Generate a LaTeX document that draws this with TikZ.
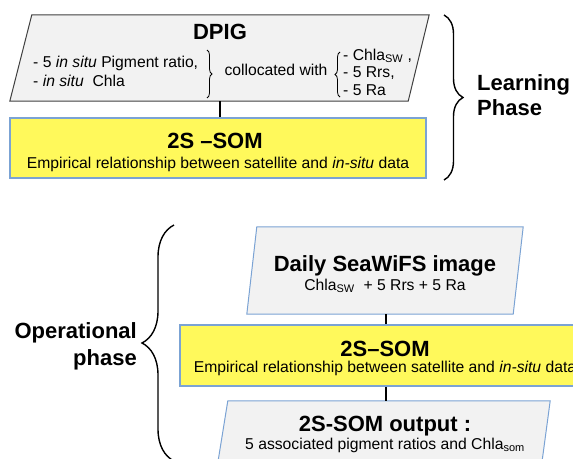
\documentclass[tikz,border=0pt]{standalone}
\usepackage{fontspec}
\setmainfont{Liberation Sans}
\usetikzlibrary{decorations.pathreplacing,positioning}

\definecolor{boxgray}{HTML}{F2F2F2}
\definecolor{boxblue}{HTML}{7BA3D4}
\definecolor{boxyellow}{HTML}{FFF95B}

\newcommand{\bigtitle}{\fontsize{22}{25}\selectfont\bfseries}
\newcommand{\smalltext}{\fontsize{15.7}{19}\selectfont}

\tikzset{
  titlenode/.style={font=\bigtitle, anchor=base, inner sep=0pt},
  textnode/.style={font=\smalltext, anchor=base, inner sep=0pt},
  listnode/.style={font=\smalltext, align=left, anchor=base west, inner sep=0pt},
  phaselabel/.style={font=\bigtitle, inner sep=0pt},
  yellowbox/.style={draw=boxblue, fill=boxyellow, line width=1.5pt, inner sep=0pt},
  frame/.style={inner sep=0pt},
  paraline/.style={fill=boxgray, line width=1pt},
  link/.style={line width=2pt},
  phasebrace/.style={decorate, decoration={brace, amplitude=#1}, line width=1.4pt},
  listbrace/.style={decorate, decoration={brace, amplitude=5pt}, line width=0.8pt},
}

\begin{document}
\begin{tikzpicture}[x=1pt,y=-1pt]
\path[use as bounding box, clip] (0,0) rectangle (573,458);

% Learning phase: DPIG data base
\node[frame, minimum width=419pt, minimum height=86pt] (dpig) at (219.5,58) {};
\draw[paraline, draw=black!75] ([xshift=22pt]dpig.north west) -- (dpig.north east)
  -- ([xshift=-21pt]dpig.south east) -- (dpig.south west) -- cycle;
\node[titlenode] (dpigtitle) at (220,39) {DPIG};
% base of a two-line node is its last line
\node[listnode] (insitu) at (33,86) {- 5 \textit{in situ} Pigment ratio,\\- \textit{in situ}\ \ Chla};
\node[textnode] (coll) at (276,75) {collocated with};
\node[listnode, font=\fontsize{15.7}{17.5}\selectfont] (sat) at (343,95)
  {- Chla\textsubscript{SW} ,\\- 5 Rrs,\\- 5 Ra};
\coordinate (ibtop) at (207,50);
\coordinate (ibbot) at (207,98);
\draw[listbrace] (ibtop) -- (ibbot);
\coordinate (sbtop) at (340,52);
\coordinate (sbbot) at (340,97);
\draw[listbrace] (sbbot) -- (sbtop);

% Learning phase: 2S-SOM
\node[yellowbox, minimum width=416pt, minimum height=60pt] (som1) at (218,148) {};
\node[titlenode] (som1title) at (215,148) {2S --SOM};
\node[textnode] (som1text) at (218,168) {Empirical relationship between satellite and \textit{in-situ} data};
\draw[link] (dpig.south) -- (dpig.south |- som1.north);

% Learning phase brace
\coordinate (lbtop) at (444,15);
\coordinate (lbbot) at (444,180);
\draw[phasebrace=19pt] (lbtop) -- (lbbot);
\node[phaselabel, align=left, anchor=base west, font=\fontsize{22}{25}\selectfont\bfseries] (learn) at (477,115) {Learning\\Phase};

% Operational phase: daily image
\node[frame, minimum width=276pt, minimum height=87pt] (daily) at (385,270.5) {};
\draw[paraline, draw=boxblue] ([xshift=10pt]daily.north west) -- (daily.north east)
  -- ([xshift=-10pt]daily.south east) -- (daily.south west) -- cycle;
\node[titlenode] (dailytitle) at (385,271) {Daily SeaWiFS image};
\node[textnode] (dailytext) at (385,290) {Chla\textsubscript{SW} \ + 5 Rrs + 5 Ra};

% Operational phase: 2S-SOM
\node[yellowbox, minimum width=412pt, minimum height=61pt] (som2) at (386,355.5) {};
\node[titlenode] (som2title) at (385,356) {2S--SOM};
\node[textnode] (som2text) at (385,372) {Empirical relationship between satellite and \textit{in-situ} data};
\draw[link] (daily.south -| som2.north) -- (som2.north);

% Operational phase: output
\node[frame, minimum width=334pt, minimum height=74pt] (output) at (383,438) {};
\draw[paraline, draw=boxblue] ([xshift=12pt]output.north west) -- (output.north east)
  -- ([xshift=-10pt]output.south east) -- (output.south west) -- cycle;
\node[titlenode] (outtitle) at (385,431) {2S-SOM output :};
\node[textnode] (outtext) at (385,449) {5 associated pigment ratios and Chla\textsubscript{som}};
\draw[link] (som2.south) -- (som2.south |- output.north);

% Operational phase brace
\coordinate (obtop) at (174,225);
\coordinate (obbot) at (174,461);
\draw[phasebrace=32pt] (obbot) -- (obtop);
\node[phaselabel, align=right, anchor=base east, font=\fontsize{22}{27}\selectfont\bfseries] (oper) at (137,365) {Operational\\phase};

\end{tikzpicture}
\end{document}
